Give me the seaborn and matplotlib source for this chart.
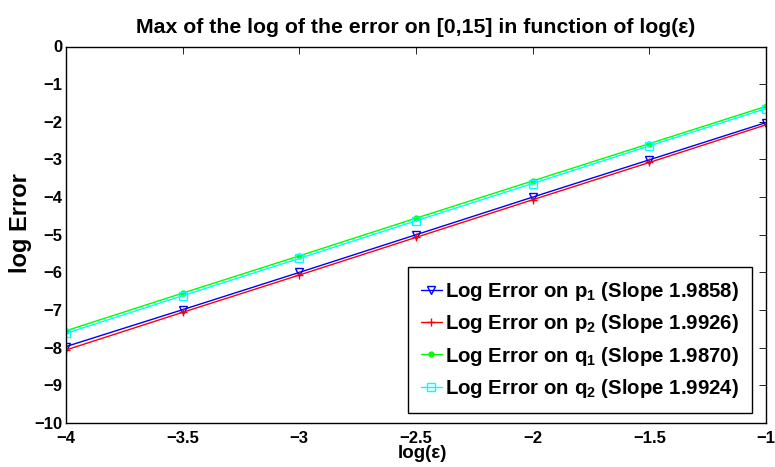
import matplotlib
matplotlib.use("Agg")
import matplotlib.pyplot as plt
import seaborn as sns
import pandas as pd

x_vals = [-4.0, -3.5, -3.0, -2.5, -2.0, -1.5, -1.0]
p1 = [-7.97, -6.99, -6.00, -5.00, -4.00, -3.01, -2.02]
p2 = [-8.06, -7.06, -6.07, -5.07, -4.07, -3.08, -2.08]
q1 = [-7.55, -6.55, -5.56, -4.56, -3.57, -2.58, -1.59]
q2 = [-7.62, -6.62, -5.63, -4.63, -3.64, -2.64, -1.65]
labels = ["Log Error on p$_1$ (Slope 1.9858)",
          "Log Error on p$_2$ (Slope 1.9926)",
          "Log Error on q$_1$ (Slope 1.9870)",
          "Log Error on q$_2$ (Slope 1.9924)"]
colors = ["#0000ff", "#ff0000", "#00ff00", "#00ffff"]
markers = ["v", "+", "o", "s"]
x_ticks = [-4, -3.5, -3, -2.5, -2, -1.5, -1]
y_ticks = list(range(-10, 1))

sns.set_theme(style="white")
plt.rcParams["font.family"] = ["Liberation Sans", "DejaVu Sans"]
plt.rcParams["font.weight"] = "bold"
plt.rcParams["text.color"] = "black"
plt.rcParams["axes.labelcolor"] = "black"
plt.rcParams["xtick.color"] = "black"
plt.rcParams["ytick.color"] = "black"
plt.rcParams["mathtext.fontset"] = "custom"
plt.rcParams["mathtext.rm"] = "Liberation Sans:bold"
plt.rcParams["mathtext.it"] = "Liberation Sans:bold"
plt.rcParams["mathtext.bf"] = "Liberation Sans:bold"
plt.rcParams["mathtext.default"] = "rm"

rows = []
for lab, ys in zip(labels, [p1, p2, q1, q2]):
    for xv, yv in zip(x_vals, ys):
        rows.append({"x": xv, "y": yv, "series": lab})
df = pd.DataFrame(rows)

fig = plt.figure(figsize=(7.75, 4.67), dpi=100)
ax = fig.add_axes([66 / 775, 1 - 423 / 467, 700 / 775, 376.5 / 467])

for lab, c, m in zip(labels, colors, markers):
    sub = df[df["series"] == lab]
    kw = dict(marker=m, markersize=5.5, markeredgecolor=c, markeredgewidth=1)
    if m in ("v", "s"):
        kw["markerfacecolor"] = "none"
    else:
        kw["markerfacecolor"] = c
    if m == "o":
        kw["markersize"] = 3.5
    sns.lineplot(data=sub, x="x", y="y", ax=ax, color=c, linewidth=1,
                 label=lab, **kw)

ax.set_xlim(-4, -1)
ax.set_ylim(-10, 0)
ax.set_xticks(x_ticks)
ax.set_yticks(y_ticks)
ax.set_xticklabels([f"{t:g}".replace("-", "\u2212") for t in x_ticks])
ax.set_yticklabels([f"{t:g}".replace("-", "\u2212") for t in y_ticks])
ax.tick_params(direction="in", length=5, width=0.6, top=True, right=True,
               labelsize=12)
ax.tick_params(axis="x", pad=5.5)
ax.tick_params(axis="y", pad=2.5)
for lbl in ax.get_xticklabels() + ax.get_yticklabels():
    lbl.set_fontweight("bold")
for s in ax.spines.values():
    s.set_visible(True)
    s.set_color("black")
    s.set_linewidth(1)
ax.set_xlabel("log(ε)", fontsize=13.5, fontweight="bold", labelpad=1)
ax.xaxis.set_label_coords((422 - 66) / 700, -0.058)
ax.set_ylabel("log Error", fontsize=17, fontweight="bold")
ax.yaxis.set_label_coords(-0.048, 0.531)
ax.set_title("Max of the log of the error on [0,15] in function of log(ε)",
             fontsize=15.3, fontweight="bold", pad=10)
leg = ax.legend(loc="lower left", bbox_to_anchor=((408 - 66) / 700, 10 / 376.5),
                borderaxespad=0, fontsize=14.7, frameon=True, fancybox=False,
                edgecolor="black", framealpha=1, handlelength=1.0,
                handletextpad=0.15, borderpad=0.65, labelspacing=0.45)
leg.get_frame().set_linewidth(1)
for t in leg.get_texts():
    t.set_fontweight("bold")

fig.savefig("out.png", dpi=100)
